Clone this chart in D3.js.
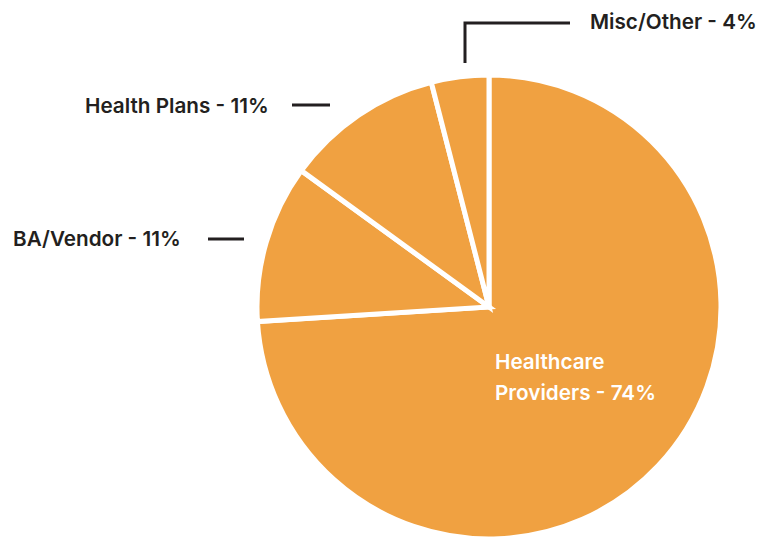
<!DOCTYPE html>
<html>
<head>
<meta charset="utf-8">
<script src="https://cdn.jsdelivr.net/npm/d3@7"></script>
<style>
  html, body { margin: 0; padding: 0; background: #ffffff; }
  svg { display: block; }
  text { font-family: "Inter", "Lato", sans-serif; font-weight: 600; }
</style>
</head>
<body>
<svg id="chart" width="758" height="537"></svg>
<script>
// Breach share by entity type
const categories = ["Healthcare Providers", "BA/Vendor", "Health Plans", "Misc/Other"];
const values = [74, 11, 11, 4];
const labels = ["Healthcare Providers - 74%", "BA/Vendor - 11%", "Health Plans - 11%", "Misc/Other - 4%"];

const width = 758, height = 537;
const cx = 489, cy = 307, radius = 232;
const fill = "#F0A141";
const ink = "#231F20";
const fontSize = 20.7;

const svg = d3.select("#chart");

const pie = d3.pie().sort(null).value(d => d).startAngle(0).endAngle(2 * Math.PI);
const arc = d3.arc().innerRadius(0).outerRadius(radius);
const arcs = pie(values);

const g = svg.append("g").attr("transform", `translate(${cx},${cy})`);

g.selectAll("path.slice")
  .data(arcs)
  .join("path")
  .attr("class", "slice")
  .attr("d", arc)
  .attr("fill", fill)
  .attr("stroke", "#ffffff")
  .attr("stroke-width", 5)
  .attr("stroke-linejoin", "miter");

// Inside label for the largest slice
const inner = svg.append("text")
  .attr("x", 495)
  .attr("y", 369)
  .attr("fill", "#ffffff")
  .attr("font-size", fontSize);
const words = labels[0].split(" ");
inner.append("tspan").attr("x", 495).attr("dy", 0).text(words[0]);
inner.append("tspan").attr("x", 495).attr("dy", 31).text(words.slice(1).join(" "));

// Outside labels with leader lines
const outside = [
  { i: 1, tx: 13, ty: 246, line: [[208, 239], [244, 239]] },
  { i: 2, tx: 85, ty: 113, line: [[292, 105], [330, 105]] },
  { i: 3, tx: 590, ty: 29, line: [[465, 63], [465, 23], [570, 23]] }
];

outside.forEach(o => {
  svg.append("text")
    .attr("x", o.tx)
    .attr("y", o.ty)
    .attr("fill", ink)
    .attr("font-size", fontSize)
    .text(labels[o.i]);
  svg.append("path")
    .attr("d", d3.line()(o.line))
    .attr("fill", "none")
    .attr("stroke", ink)
    .attr("stroke-width", 3);
});
</script>
</body>
</html>
